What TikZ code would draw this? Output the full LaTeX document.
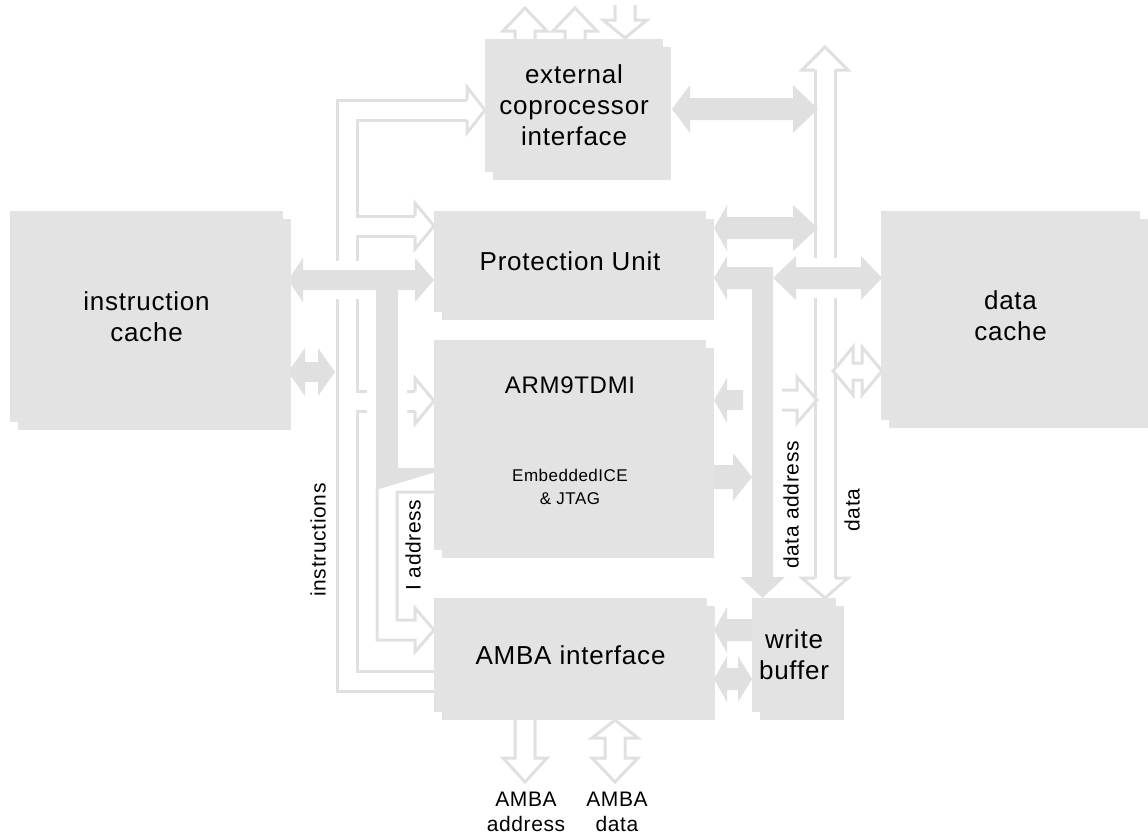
\documentclass[tikz,border=0pt]{standalone}
\usepackage{fontspec}
\setmainfont{Liberation Sans}[LetterSpace=3]
\usetikzlibrary{shadows,backgrounds}
\definecolor{boxgray}{HTML}{E3E3E3}
\definecolor{busgray}{HTML}{E0E0E0}

\begin{document}
\begin{tikzpicture}[x=1pt,y=-1pt,
  box/.style={fill=boxgray,inner sep=0pt,align=center,font=\fontsize{26}{31}\selectfont,
    copy shadow={shadow xshift=8pt,shadow yshift=-8pt,fill=boxgray,draw=none}},
  bus/.style={fill=busgray},
  cut/.style={preaction={draw=white,line width=18pt,line join=round}},
  wire/.style={draw=busgray,line width=3pt},
  hollow/.style={wire,fill=white},
  lbl/.style={font=\fontsize{21}{25}\selectfont,align=center}]
\useasboundingbox (0,0) rectangle (1148,835);

\node[box,minimum width=273,minimum height=211] (icache) at (146.5,316.5) {instruction\\cache};
\node[box,minimum width=178,minimum height=133] (cop) at (574,105.5) {external\\coprocessor\\interface};
\node[box,minimum width=272,minimum height=101] (pu) at (570,261.5) {Protection Unit};
\node[box,minimum width=272,minimum height=210] (arm) at (570,445) {};
\node[box,minimum width=273,minimum height=114] (amba) at (570.5,655) {AMBA interface};
\node[box,minimum width=84,minimum height=114] (wbuf) at (794,655) {write\\buffer};
\node[box,minimum width=259,minimum height=209] (dcache) at (1010.5,315.5) {data\\cache};
\node[font=\fontsize{24}{30}\selectfont] (core) at (570,385) {ARM9TDMI};
\node[lbl,font=\fontsize{17}{23}\selectfont] (ice) at (570,487) {EmbeddedICE\\\& JTAG};

\node[lbl] (aaddr) at (526,812) {AMBA\\address};
\node[lbl] (adata) at (617,812) {AMBA\\data};
\node[lbl,rotate=90] (instr) at (318,540) {instructions};
\node[lbl,rotate=90] (iaddr) at (413,545) {I address};
\node[lbl,rotate=90] (daddr) at (791,505) {data address};
\node[lbl,rotate=90] (dat) at (852,510) {data};

\begin{scope}[on background layer]
\foreach \w/\c in {23/busgray,17/white}
  \draw[line width=\w pt,draw=\c] (434,681) -- (347,681) -- (347,110) -- (467,110)
    (347,226) -- (415,226) (347,401) -- (415,401) (825,70) -- (825,578);

\fill[bus,cut] (288,280) -- (303,258) -- (303,270) -- (415,270) -- (415,258) -- (434,280)
  -- (415,302) -- (415,290) -- (398,290) -- (398,468) -- (434,468) -- (434,471)
  -- (376,488) -- (376,290) -- (303,290) -- (303,302) -- cycle;
\fill[bus,cut] (773,278) -- (796,256) -- (796,267) -- (861,267) -- (861,256) -- (882,278)
  -- (861,300) -- (861,289) -- (796,289) -- (796,300) -- cycle;

\fill[bus] (288,372) -- (305,348) -- (305,362) -- (318,362) -- (318,348) -- (335,372)
  -- (318,396) -- (318,382) -- (305,382) -- (305,396) -- cycle;
\fill[bus] (672,109) -- (690,85) -- (690,98) -- (793,98) -- (793,85) -- (818,109)
  -- (793,133) -- (793,120) -- (690,120) -- (690,133) -- cycle;
\fill[bus] (714,228) -- (727,205) -- (727,217) -- (793,217) -- (793,205) -- (818,228)
  -- (793,251) -- (793,239) -- (727,239) -- (727,251) -- cycle;
\fill[bus] (714,278) -- (727,256) -- (727,267) -- (773,267) -- (773,577) -- (785,577)
  -- (762.5,598) -- (740,577) -- (752,577) -- (752,289) -- (727,289) -- (727,300) -- cycle;
\fill[bus] (714,400) -- (727,378) -- (727,390) -- (743,390) -- (743,410) -- (727,410) -- (727,423) -- cycle;
\fill[bus] (714,465) -- (733,465) -- (733,453) -- (752,477) -- (733,501) -- (733,489) -- (714,489) -- cycle;
\fill[bus] (714,630) -- (727,607) -- (727,619) -- (752,619) -- (752,641) -- (727,641) -- (727,653) -- cycle;
\fill[bus] (714,679) -- (727,656) -- (727,668) -- (738,668) -- (738,656) -- (752,679)
  -- (738,702) -- (738,690) -- (727,690) -- (727,702) -- cycle;

\draw[wire] (467,100) -- (467,87) -- (485,110) -- (467,133) -- (467,120);
\draw[wire] (415,216) -- (415,203) -- (434,226) -- (415,249) -- (415,236);
\draw[wire] (415,391) -- (415,378) -- (434,401) -- (415,424) -- (415,411);
\draw[wire] (434,492) -- (397,492) -- (397,620) -- (415,620) -- (415,608) -- (434,630)
  -- (415,652) -- (415,640) -- (377,640) -- (377,488) -- (434,471);
\draw[wire] (815,70) -- (802,70) -- (825,47) -- (848,70) -- (835,70);
\draw[wire] (815,578) -- (802,578) -- (825,598) -- (848,578) -- (835,578);
\draw[wire] (782,390) -- (797,390) -- (797,377) -- (817,400) -- (797,423) -- (797,410) -- (782,410);
\draw[hollow] (833,371) -- (853,347) -- (853,363) -- (862,363) -- (862,347) -- (882,371)
  -- (862,395) -- (862,380) -- (853,380) -- (853,395) -- cycle;
\draw[wire] (515,39) -- (515,31) -- (503,31) -- (525,8) -- (547,31) -- (535,31) -- (535,39);
\draw[wire] (565,39) -- (565,31) -- (553,31) -- (575,8) -- (597,31) -- (585,31) -- (585,39);
\draw[wire] (615,5) -- (615,20) -- (603,20) -- (625,38) -- (647,20) -- (635,20) -- (635,5);
\draw[wire] (515,720) -- (515,758) -- (503,758) -- (525,782) -- (547,758) -- (535,758) -- (535,720);
\draw[hollow] (615,720) -- (638,738) -- (625,738) -- (625,758) -- (638,758) -- (615,782)
  -- (592,758) -- (605,758) -- (605,738) -- (592,738) -- cycle;
\end{scope}
\end{tikzpicture}
\end{document}
